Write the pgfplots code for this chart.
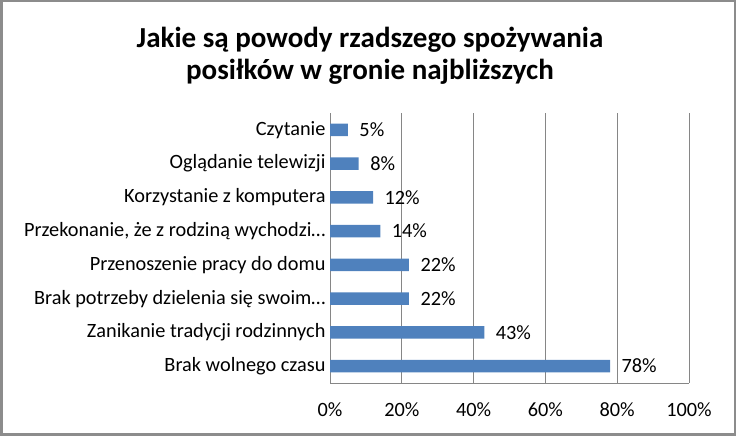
\documentclass[border=0pt]{standalone}
\usepackage{pgfplots}
\pgfplotsset{compat=1.18}
\usepackage{fontspec}
\setmainfont{Carlito}
\definecolor{barblue}{HTML}{4F81BD}
\definecolor{gridgray}{HTML}{868686}
\definecolor{framegray}{HTML}{8C8C8C}
\begin{document}
\begin{tikzpicture}[x=1pt,y=1pt]
 % chart frame
 \draw[framegray,line width=2.5pt] (1.25,1.25) rectangle (734.75,434.75);
 \node[align=center,font=\fontsize{29}{32}\selectfont\bfseries] at (370,380)
   {Jakie są powody rzadszego spożywania\\posiłków w gronie najbliższych};
 \begin{axis}[
  at={(330pt,53pt)},anchor=south west,
  scale only axis,
  width=359pt,height=270pt,
  xbar,
  bar width=12.5pt,
  xmin=0,xmax=100,
  ymin=-0.5,ymax=7.5,
  y dir=reverse,
  xtick={0,20,40,60,80,100},
  xticklabel={\pgfmathprintnumber{\tick}\%},
  ytick=data,
  yticklabels={Czytanie,Oglądanie telewizji,Korzystanie z komputera,
   {Przekonanie, że z rodziną wychodzi…},Przenoszenie pracy do domu,
   Brak potrzeby dzielenia się swoim…,Zanikanie tradycji rodzinnych,
   Brak wolnego czasu},
  axis x line*=bottom,
  axis y line*=left,
  axis line style={gridgray,-},
  xmajorgrids,
  grid style={gridgray,line width=0.8pt},
  major tick length=0pt,
  /pgf/number format/assume math mode=true,
  tick label style={font=\fontsize{20.3}{22}\selectfont},
  xticklabel style={yshift=-16pt},
  yticklabel style={xshift=-1pt},
  nodes near coords={\pgfmathprintnumber{\pgfplotspointmeta}\%},
  every node near coord/.append style={font=\fontsize{20.3}{22}\selectfont,xshift=8pt},
 ]
 \addplot[fill=barblue,draw=none] coordinates {
  (5,0) (8,1) (12,2) (14,3) (22,4) (22,5) (43,6) (78,7)
 };
 \end{axis}
\end{tikzpicture}
\end{document}
